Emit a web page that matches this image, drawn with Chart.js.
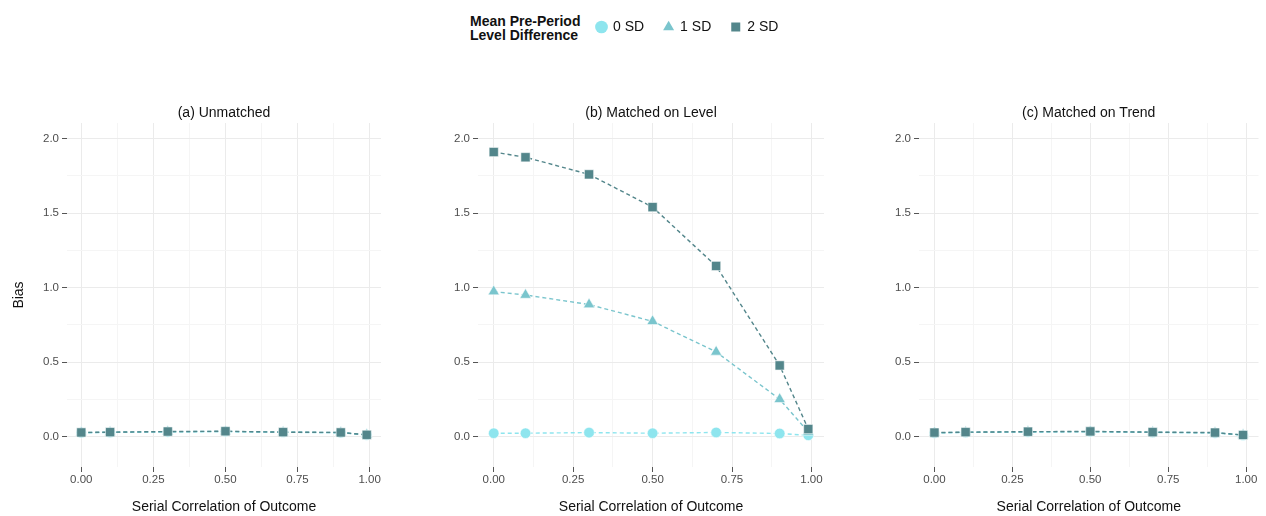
<!DOCTYPE html>
<html>
<head>
<meta charset="utf-8">
<script src="https://cdn.jsdelivr.net/npm/chart.js@4.4.1/dist/chart.umd.min.js"></script>
<style>
  body { margin: 0; background: #fff; width: 1266px; height: 516px; position: relative; overflow: hidden; font-family: "Liberation Sans", Arial, sans-serif; }
  .box { position: absolute; }
  #legendTitle { position: absolute; left: 470px; top: 14px; font-weight: bold; font-size: 14px; line-height: 14px; color: #111; }
</style>
</head>
<body>
<div id="legendTitle">Mean Pre-Period<br>Level Difference</div>
<div class="box" style="left:577px;top:0px;width:300px;height:90px"><canvas id="legendChart"></canvas></div>
<div class="box" style="left:0px;top:96px;width:400px;height:420px"><canvas id="panelA"></canvas></div>
<div class="box" style="left:420px;top:96px;width:420px;height:420px"><canvas id="panelB"></canvas></div>
<div class="box" style="left:860px;top:96px;width:406px;height:420px"><canvas id="panelC"></canvas></div>
<script>
  // serial correlation values (x)
  const serialCorr = [0, 0.1, 0.3, 0.5, 0.7, 0.9, 0.99];
  const seriesLabels = ['0 SD', '1 SD', '2 SD'];
  const panelTitles = ['(a) Unmatched', '(b) Matched on Level', '(c) Matched on Trend'];
  const xTicks = [0, 0.125, 0.25, 0.375, 0.5, 0.625, 0.75, 0.875, 1];
  const yTicks = [0, 0.25, 0.5, 0.75, 1, 1.25, 1.5, 1.75, 2];

  // bias, panel (a)
  const unmatched0 = [0.025, 0.027, 0.031, 0.033, 0.028, 0.025, 0.010];
  const unmatched1 = [0.026, 0.028, 0.032, 0.034, 0.029, 0.026, 0.011];
  const unmatched2 = [0.027, 0.029, 0.033, 0.035, 0.029, 0.027, 0.011];
  // bias, panel (b)
  const level0 = [0.022, 0.022, 0.026, 0.022, 0.027, 0.020, 0.008];
  const level1 = [0.973, 0.950, 0.886, 0.773, 0.568, 0.250, 0.030];
  const level2 = [1.910, 1.875, 1.760, 1.540, 1.145, 0.477, 0.050];
  // bias, panel (c)
  const trend0 = [0.024, 0.027, 0.030, 0.032, 0.027, 0.024, 0.009];
  const trend1 = [0.025, 0.028, 0.031, 0.033, 0.028, 0.025, 0.010];
  const trend2 = [0.026, 0.029, 0.032, 0.034, 0.029, 0.026, 0.010];

  const colors = ['#8EE5EE', '#7AC5CD', '#53868B'];
  const shapes = ['circle', 'triangle', 'rect'];
  const radii = [5.3, 6.5, 6.5];

  const isMajor = (v, step) => Math.abs(v / step - Math.round(v / step)) < 1e-6;

  const makeDatasets = (series) => series.map((vals, i) => ({
      label: seriesLabels[i],
      data: serialCorr.map((x, j) => ({ x: x, y: vals[j] })),
      borderColor: colors[i],
      backgroundColor: colors[i],
      borderWidth: 1.4,
      borderDash: [4, 3],
      pointStyle: shapes[i],
      pointRadius: radii[i],
      pointBorderColor: 'rgba(255,255,255,0.55)',
      pointBorderWidth: 1,
      order: 2 - i,
      tension: 0
  }));

  const makePanel = (id, title, series, cfg) => {
      const ctx = document.getElementById(id).getContext('2d');
      return new Chart(ctx, {
          type: 'line',
          data: { datasets: makeDatasets(series) },
          options: {
              responsive: true,
              maintainAspectRatio: false,
              animation: false,
              layout: { padding: { left: cfg.padLeft, right: cfg.padRight, top: 0, bottom: 0 } },
              plugins: {
                  legend: { display: false },
                  tooltip: { enabled: false },
                  title: {
                      display: true, text: title, fullSize: false,
                      color: '#111', font: { size: 14, weight: 'normal' },
                      padding: { top: 8.4, bottom: 1.8 }
                  }
              },
              scales: {
                  x: {
                      type: 'linear', min: -0.0495, max: 1.0395,
                      afterBuildTicks: s => { s.ticks = xTicks.map(v => ({ value: v })); },
                      ticks: {
                          autoSkip: false, maxRotation: 0, padding: 1,
                          color: '#4d4d4d', font: { size: 11.5 },
                          callback: v => isMajor(v, 0.25) ? v.toFixed(2) : ''
                      },
                      grid: {
                          color: c => isMajor(c.tick.value, 0.25) ? '#ebebeb' : '#f5f5f5',
                          tickColor: c => isMajor(c.tick.value, 0.25) ? '#555' : 'rgba(0,0,0,0)',
                          tickLength: 5
                      },
                      border: { display: false },
                      title: {
                          display: true, text: 'Serial Correlation of Outcome',
                          color: '#111', font: { size: 14 }, padding: { top: 11.4, bottom: 0 }
                      }
                  },
                  y: {
                      type: 'linear', min: -0.205, max: 2.105,
                      afterBuildTicks: s => { s.ticks = yTicks.map(v => ({ value: v })); },
                      afterFit: s => { s.width = cfg.yWidth; },
                      ticks: {
                          padding: 3, color: '#4d4d4d', font: { size: 11.5 },
                          callback: v => isMajor(v, 0.5) ? v.toFixed(1) : ''
                      },
                      grid: {
                          color: c => isMajor(c.tick.value, 0.5) ? '#ebebeb' : '#f5f5f5',
                          tickColor: c => isMajor(c.tick.value, 0.5) ? '#555' : 'rgba(0,0,0,0)',
                          tickLength: 5
                      },
                      border: { display: false },
                      title: {
                          display: cfg.yTitle, text: 'Bias',
                          color: '#111', font: { size: 14 }, padding: { top: 0, bottom: 0 }
                      }
                  }
              }
          }
      });
  };

  const initLegend = () => {
      const ctx = document.getElementById('legendChart').getContext('2d');
      new Chart(ctx, {
          type: 'line',
          data: {
              datasets: seriesLabels.map((lab, i) => ({
                  label: lab, data: [],
                  borderColor: colors[i], backgroundColor: colors[i],
                  pointStyle: shapes[i], borderWidth: 0
              }))
          },
          options: {
              responsive: true,
              maintainAspectRatio: false,
              animation: false,
              scales: { x: { display: false }, y: { display: false } },
              plugins: {
                  tooltip: { enabled: false },
                  legend: {
                      display: true, position: 'top', align: 'start',
                      labels: {
                          usePointStyle: true, boxHeight: 9, boxWidth: 9,
                          padding: 20, color: '#111', font: { size: 14 }
                      }
                  }
              }
          }
      });
  };

  document.addEventListener('DOMContentLoaded', () => {
      initLegend();
      makePanel('panelA', panelTitles[0], [unmatched0, unmatched1, unmatched2], { padLeft: 11, padRight: 19, yWidth: 56, yTitle: true });
      makePanel('panelB', panelTitles[1], [level0, level1, level2], { padLeft: 18, padRight: 16, yWidth: 40, yTitle: false });
      makePanel('panelC', panelTitles[2], [trend0, trend1, trend2], { padLeft: 19, padRight: 2, yWidth: 40, yTitle: false });
  });
</script>
</body>
</html>
